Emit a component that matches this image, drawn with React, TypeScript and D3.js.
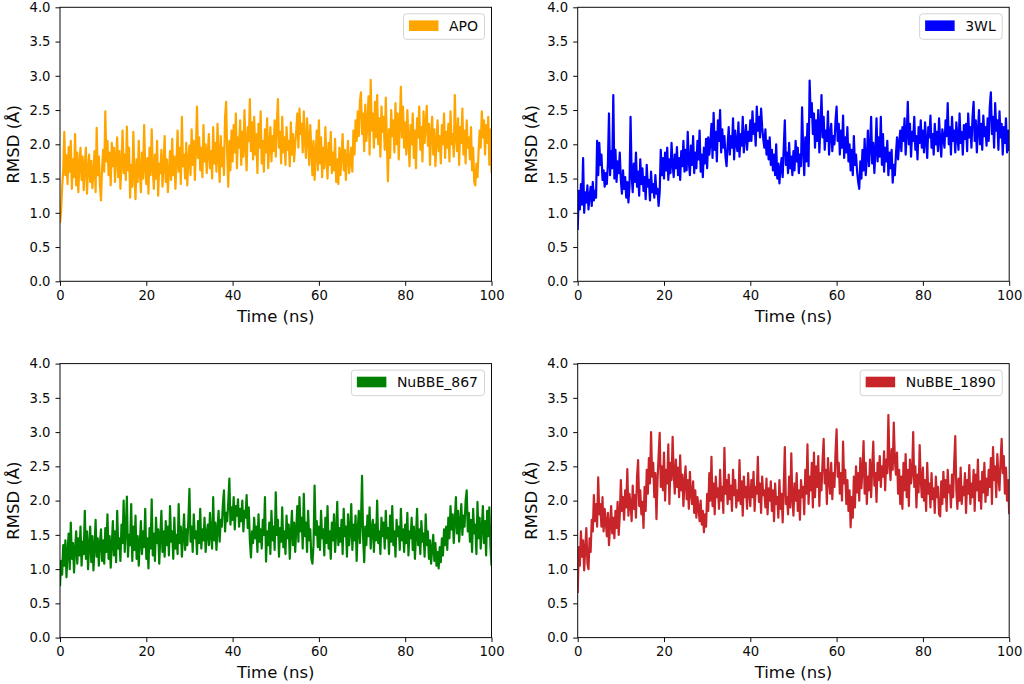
import React, { useRef, useEffect } from 'react';
import * as d3 from 'd3';

// one frame every 0.25 ns, 0 .. 100 ns
const STEP = 0.25;
const xTicks = [0, 20, 40, 60, 80, 100];
const yTicks = [0, 0.5, 1, 1.5, 2, 2.5, 3, 3.5, 4];

const apo = [
  0.85, 1.02, 1.38, 1.62, 2.18, 1.55, 1.84, 1.42, 1.96, 1.60, 2.05, 1.35, 1.78, 1.52, 2.15, 1.40, 1.88, 1.30, 1.72, 1.95,
  1.48, 1.82, 1.33, 1.70, 1.95, 1.28, 1.62, 1.85, 1.45, 1.76, 1.36, 1.58, 1.90, 1.30, 2.24, 1.55, 1.82, 1.40, 1.18, 1.65,
  1.92, 1.60, 2.48, 1.75, 2.05, 1.55, 1.88, 1.40, 2.02, 1.68, 1.95, 1.45, 1.80, 2.10, 1.52, 1.90, 1.35, 1.72, 2.20, 1.58,
  1.85, 1.48, 2.26, 1.62, 1.95, 1.22, 1.70, 1.38, 2.18, 1.55, 1.20, 1.78, 1.45, 2.05, 1.60, 1.30, 1.88, 1.50, 2.28, 1.65,
  1.42, 1.80, 1.28, 1.95, 1.55, 2.22, 1.65, 1.35, 1.85, 1.50, 2.05, 1.25, 1.72, 1.58, 1.92, 1.38, 1.68, 2.12, 1.45, 1.78,
  1.30, 1.62, 1.90, 1.48, 2.08, 1.55, 1.82, 1.35, 1.75, 2.20, 1.60, 1.95, 1.42, 2.40, 1.68, 1.85, 1.50, 2.02, 1.40, 1.78,
  1.98, 1.55, 2.22, 1.70, 2.05, 1.48, 1.92, 2.55, 1.80, 2.10, 1.62, 1.95, 1.52, 2.28, 1.75, 2.00, 1.58, 1.88, 2.15, 1.65,
  1.90, 1.50, 2.25, 1.72, 2.02, 1.60, 2.30, 1.82, 1.45, 2.12, 1.68, 1.95, 1.55, 2.40, 2.62, 1.85, 1.38, 2.05, 1.62, 2.20,
  1.75, 2.28, 1.88, 2.45, 1.65, 2.10, 1.95, 2.35, 1.70, 2.18, 1.82, 2.50, 1.98, 1.62, 2.25, 2.05, 2.66, 1.90, 2.32, 1.78,
  2.40, 1.85, 2.15, 1.58, 2.30, 1.95, 2.48, 1.72, 2.05, 1.60, 2.22, 1.88, 2.38, 1.65, 1.98, 2.25, 1.75, 2.12, 1.90, 2.35,
  1.82, 2.28, 2.66, 1.95, 2.18, 1.72, 2.40, 1.88, 2.10, 1.70, 2.25, 1.92, 2.05, 1.68, 2.32, 1.85, 2.15, 1.75, 2.00, 2.20,
  2.45, 1.95, 2.52, 2.15, 2.30, 1.88, 2.48, 2.05, 1.80, 2.38, 2.10, 1.70, 2.28, 1.92, 1.55, 2.05, 1.48, 1.85, 2.20, 1.62,
  2.35, 1.72, 2.10, 1.52, 1.95, 1.65, 2.25, 1.80, 1.50, 2.02, 1.70, 2.18, 1.58, 1.88, 1.62, 2.08, 1.45, 1.78, 1.42, 1.95,
  1.55, 1.85, 2.15, 1.62, 1.92, 1.48, 1.80, 2.05, 1.58, 1.75, 1.95, 1.60, 2.20, 1.85, 2.35, 2.05, 2.48, 2.12, 2.62, 2.76,
  2.15, 2.45, 1.90, 2.58, 2.05, 2.30, 2.70, 1.85, 2.94, 2.20, 2.45, 1.95, 2.62, 2.10, 2.72, 2.00, 2.38, 1.82, 2.55, 2.18,
  2.40, 1.92, 2.68, 2.05, 1.46, 2.22, 1.80, 2.50, 2.12, 2.35, 1.88, 2.60, 2.00, 2.45, 1.78, 2.30, 2.84, 2.10, 2.55, 1.95,
  2.32, 1.85, 2.50, 2.05, 1.68, 2.28, 2.00, 2.45, 1.80, 2.20, 1.65, 2.38, 2.10, 2.55, 1.92, 2.25, 1.75, 2.48, 2.02, 2.30,
  2.56, 1.98, 2.30, 1.70, 2.15, 2.40, 1.85, 2.22, 1.68, 2.05, 2.35, 1.90, 2.12, 1.72, 2.28, 2.00, 2.45, 1.80, 2.18, 1.95,
  2.30, 1.75, 2.48, 2.00, 2.15, 1.82, 2.72, 2.10, 1.90, 2.38, 1.70, 2.25, 2.02, 2.52, 1.85, 2.20, 1.72, 2.35, 1.95, 2.10,
  1.78, 2.25, 1.62, 1.95, 1.45, 1.40, 1.72, 1.52, 1.88, 2.20, 1.95, 2.48, 2.10, 2.35, 1.85, 2.28, 2.02, 2.40, 1.70, 2.22,
  1.58,
];

const wl3 = [
  0.75, 1.32, 1.05, 1.42, 1.12, 1.80, 1.00, 1.30, 1.15, 1.40, 1.05, 1.25, 1.38, 1.10, 1.45, 1.18, 1.32, 1.22, 2.05, 1.55,
  2.02, 1.70, 1.85, 1.48, 1.62, 1.38, 1.58, 1.42, 1.72, 2.45, 1.55, 1.90, 1.65, 2.72, 1.50, 1.92, 1.45, 1.75, 1.58, 1.88,
  1.48, 1.28, 1.62, 1.35, 1.52, 1.22, 1.45, 1.15, 1.38, 2.40, 1.55, 1.30, 1.72, 1.45, 1.88, 1.38, 1.60, 1.25, 1.78, 1.42,
  1.65, 1.32, 1.52, 1.20, 1.70, 1.38, 1.48, 1.18, 1.60, 1.30, 1.42, 1.22, 1.55, 1.28, 1.35, 1.10, 1.30, 1.92, 1.55, 1.80,
  1.50, 1.88, 1.62, 1.95, 1.48, 1.78, 1.58, 2.02, 1.70, 1.52, 1.85, 1.65, 1.96, 1.55, 1.80, 1.48, 1.90, 1.68, 2.05, 1.60,
  1.92, 1.62, 2.18, 1.75, 1.55, 1.98, 1.70, 2.12, 1.58, 1.88, 1.65, 2.05, 1.78, 2.20, 1.60, 1.85, 1.52, 1.95, 1.72, 2.08,
  1.65, 2.10, 1.85, 2.02, 2.30, 1.80, 2.46, 1.92, 2.18, 1.75, 2.35, 2.05, 2.50, 1.88, 2.22, 1.95, 2.12, 1.82, 1.68, 2.00,
  2.25, 1.85, 2.12, 1.95, 2.38, 1.78, 2.20, 2.02, 1.90, 2.32, 1.82, 2.15, 1.98, 2.40, 1.88, 2.10, 2.28, 1.92, 2.18, 2.05,
  2.35, 2.05, 2.48, 2.15, 2.30, 1.98, 2.55, 2.20, 2.40, 2.10, 2.52, 2.25, 2.08, 1.95, 2.22, 1.85, 2.05, 1.78, 2.10, 1.70,
  1.92, 1.62, 1.85, 1.55, 2.00, 1.50, 1.72, 1.43, 1.65, 1.80, 1.52, 1.95, 2.35, 1.70, 1.88, 1.58, 2.02, 1.65, 1.82, 1.55,
  1.90, 1.62, 2.05, 1.75, 1.95, 1.58, 1.85, 1.68, 2.54, 1.92, 1.55, 2.10, 1.75, 2.30, 1.68, 2.93, 2.40, 2.60, 2.15, 2.45,
  1.95, 2.35, 2.05, 2.50, 1.88, 2.25, 2.72, 2.10, 2.40, 1.92, 2.20, 2.05, 2.48, 1.85, 2.15, 2.30, 1.90, 2.12, 2.00, 2.35,
  2.55, 2.05, 2.30, 1.85, 2.20, 1.95, 2.42, 1.80, 2.10, 1.88, 2.25, 1.75, 2.00, 1.62, 1.92, 1.55, 2.12, 1.70, 1.85, 1.60,
  1.45, 1.35, 1.75, 1.50, 1.92, 1.62, 2.08, 1.55, 1.80, 2.20, 1.68, 1.95, 2.40, 1.72, 2.02, 1.58, 1.90, 2.38, 1.75, 2.10,
  1.82, 2.40, 1.70, 2.15, 1.60, 1.95, 1.75, 2.05, 1.55, 1.88, 1.65, 1.92, 1.44, 1.70, 1.55, 1.85, 2.10, 1.78, 2.02, 2.20,
  1.90, 2.25, 2.05, 2.38, 1.85, 2.15, 2.62, 2.00, 2.30, 1.82, 2.18, 2.05, 2.40, 1.92, 2.12, 1.78, 2.25, 2.02, 2.35, 1.95,
  2.20, 1.88, 2.32, 2.05, 1.80, 2.25, 2.10, 2.42, 1.95, 2.15, 1.85, 2.30, 2.00, 2.18, 1.90, 2.38, 2.05, 1.82, 2.22, 2.10,
  1.95, 2.35, 2.12, 2.60, 2.00, 2.25, 1.85, 2.40, 2.05, 2.20, 1.88, 2.32, 2.10, 1.92, 2.45, 2.02, 2.18, 1.85, 2.28, 2.08,
  2.30, 1.90, 2.45, 2.10, 2.25, 1.95, 2.40, 2.62, 2.05, 2.35, 1.88, 2.20, 2.50, 2.00, 2.30, 1.92, 2.42, 2.12, 2.25, 1.98,
  2.38, 2.05, 2.55, 2.76, 2.15, 2.40, 1.95, 2.60, 2.20, 2.35, 1.92, 2.48, 2.10, 2.30, 1.85, 2.25, 2.02, 2.38, 1.88, 2.20,
  1.90,
];

const nubbe867 = [
  0.75, 1.12, 0.92, 1.35, 1.05, 1.42, 0.88, 1.25, 1.52, 1.00, 1.68, 1.15, 1.38, 0.95, 1.30, 1.55, 1.08, 1.45, 1.20, 1.62,
  1.05, 1.40, 1.22, 1.85, 1.15, 1.55, 1.00, 1.35, 1.62, 1.10, 1.48, 0.98, 1.30, 1.72, 1.18, 1.45, 1.05, 1.38, 1.58, 1.12,
  1.42, 1.08, 1.60, 1.25, 1.80, 1.15, 1.48, 1.02, 1.35, 1.70, 1.20, 1.55, 1.10, 1.85, 1.30, 1.45, 1.12, 1.65, 1.38, 2.00,
  1.25, 1.58, 2.06, 1.18, 1.50, 1.35, 1.95, 1.12, 1.62, 1.28, 1.78, 1.15, 1.48, 1.05, 1.40, 1.70, 1.22, 1.55, 1.32, 1.88,
  1.15, 1.45, 1.01, 1.60, 1.30, 2.02, 1.20, 1.52, 1.12, 1.75, 1.38, 1.58, 1.08, 1.48, 1.85, 1.25, 1.55, 1.18, 1.70, 1.35,
  1.62, 1.20, 1.92, 1.40, 1.55, 1.15, 1.75, 1.30, 1.50, 1.22, 1.95, 1.38, 1.62, 1.18, 1.48, 1.80, 1.28, 1.58, 1.35, 1.72,
  2.17, 1.40, 1.62, 1.25, 1.80, 1.45, 1.55, 1.22, 1.70, 1.38, 1.88, 1.30, 1.58, 1.42, 1.75, 1.25, 1.52, 1.65, 1.35, 1.82,
  1.48, 1.30, 2.05, 1.42, 1.68, 1.28, 1.58, 1.85, 1.40, 1.72, 1.62, 1.95, 2.15, 1.55, 1.82, 1.70, 1.98, 2.32, 1.65, 1.90,
  1.72, 2.05, 1.58, 1.92, 1.78, 2.02, 1.62, 1.88, 1.70, 2.00, 1.55, 1.85, 1.75, 2.08, 1.60, 1.90, 1.42, 1.17, 1.55, 1.38,
  1.75, 1.45, 1.62, 1.25, 1.80, 1.40, 1.58, 1.30, 1.72, 1.50, 2.05, 1.11, 1.55, 1.35, 1.68, 1.22, 1.85, 1.42, 1.62, 1.28,
  2.12, 1.50, 1.72, 1.18, 1.60, 1.40, 1.90, 1.32, 1.55, 1.22, 1.78, 1.45, 1.65, 1.15, 1.52, 1.85, 1.35, 1.68, 1.25, 1.58,
  1.92, 1.40, 2.05, 1.55, 1.75, 1.30, 2.10, 1.48, 1.68, 1.25, 1.85, 1.42, 1.58, 1.15, 1.08, 1.35, 2.22, 1.50, 1.70, 1.32,
  1.62, 1.28, 1.85, 1.45, 1.58, 1.20, 1.75, 1.38, 1.92, 1.30, 1.55, 1.15, 1.68, 1.42, 1.80, 1.25, 1.52, 1.98, 1.35, 1.60,
  1.40, 1.72, 1.22, 1.88, 1.48, 1.62, 1.18, 1.80, 1.35, 1.55, 1.95, 1.28, 1.65, 1.42, 1.78, 1.12, 1.58, 1.85, 1.38, 1.70,
  2.36, 1.45, 1.10, 1.62, 1.35, 1.78, 1.48, 1.90, 1.30, 1.58, 1.72, 1.25, 1.65, 1.42, 2.00, 1.38, 1.55, 1.22, 1.75, 1.48,
  1.68, 1.30, 1.85, 1.45, 1.60, 1.22, 1.78, 1.40, 1.92, 1.35, 1.55, 1.18, 1.72, 1.48, 1.62, 1.28, 1.88, 1.42, 1.58, 1.25,
  1.65, 1.38, 1.82, 1.20, 1.55, 1.45, 1.75, 1.28, 1.62, 1.15, 1.48, 1.88, 1.35, 1.58, 1.22, 1.70, 1.40, 1.52, 1.18, 1.80,
  1.35, 1.55, 1.15, 1.42, 1.08, 1.30, 1.50, 1.12, 1.38, 1.05, 1.25, 1.01, 1.32, 1.10, 1.45, 1.20, 1.58, 1.35, 1.62, 1.28,
  1.75, 1.45, 1.92, 1.58, 1.80, 1.38, 1.70, 2.05, 1.52, 1.85, 1.40, 1.68, 1.95, 1.50, 1.78, 1.62, 2.00, 2.15, 1.55, 1.82,
  1.40, 1.72, 1.25, 1.88, 1.52, 1.65, 1.22, 1.98, 1.45, 1.75, 1.30, 1.60, 1.92, 1.38, 1.70, 1.20, 1.85, 1.48, 1.90, 1.35,
  1.05,
];

const nubbe1890 = [
  0.65, 1.32, 1.05, 1.55, 1.18, 1.42, 0.98, 1.30, 1.60, 1.08, 1.00, 1.45, 1.25, 1.72, 1.55, 2.08, 1.70, 1.95, 1.62, 2.34,
  1.80, 1.95, 1.62, 2.05, 1.55, 1.88, 1.70, 1.48, 1.82, 1.35, 1.65, 1.92, 1.52, 1.75, 1.45, 1.85, 1.60, 1.98, 1.50, 1.78,
  2.30, 1.85, 2.05, 1.72, 2.15, 1.90, 2.46, 1.78, 2.10, 1.95, 1.70, 2.22, 1.88, 2.08, 1.75, 2.35, 2.59, 1.92, 2.15, 1.80,
  1.98, 1.60, 2.20, 1.85, 2.45, 2.10, 2.62, 2.25, 3.00, 2.35, 2.55, 2.05, 2.40, 1.73, 2.30, 2.65, 2.99, 2.20, 2.50, 2.15,
  2.70, 2.00, 2.45, 2.25, 2.82, 1.95, 2.55, 2.30, 2.93, 2.40, 2.10, 2.60, 2.20, 2.48, 2.05, 2.66, 2.15, 2.38, 1.92, 2.28,
  2.50, 2.02, 2.30, 1.88, 2.42, 2.10, 1.95, 2.28, 1.82, 2.15, 1.75, 2.05, 1.90, 1.70, 2.00, 1.65, 1.85, 1.54, 1.80, 1.62,
  2.10, 1.85, 2.40, 2.00, 2.64, 1.92, 2.25, 1.80, 2.35, 2.05, 2.18, 1.88, 2.45, 2.00, 2.20, 1.82, 2.77, 2.10, 2.30, 1.95,
  2.38, 2.02, 2.22, 1.85, 2.45, 2.08, 2.30, 1.90, 2.15, 2.00, 2.59, 1.95, 2.28, 1.78, 2.35, 2.05, 2.20, 1.88, 2.40, 2.10,
  1.92, 2.30, 2.05, 2.42, 1.85, 2.20, 2.10, 2.64, 1.98, 2.25, 1.82, 2.35, 2.08, 2.15, 1.90, 2.32, 1.80, 2.18, 2.00, 2.28,
  1.85, 2.15, 1.70, 2.25, 1.95, 2.05, 1.75, 2.30, 1.88, 2.10, 1.68, 2.20, 2.78, 1.95, 2.05, 1.80, 2.35, 1.90, 2.69, 2.02,
  1.78, 2.25, 2.00, 2.40, 1.85, 2.15, 1.72, 2.30, 2.05, 2.20, 1.80, 2.45, 2.10, 2.82, 1.95, 2.35, 2.15, 2.55, 1.90, 2.70,
  2.05, 2.50, 2.20, 2.65, 1.92, 2.40, 2.15, 2.58, 2.90, 2.25, 2.45, 1.95, 2.62, 2.30, 2.10, 2.55, 2.02, 2.40, 2.20, 2.70,
  3.04, 2.35, 2.55, 2.10, 2.40, 2.00, 2.86, 2.25, 2.45, 1.95, 2.30, 1.85, 2.15, 1.61, 2.05, 1.75, 2.35, 1.90, 2.50, 2.12,
  2.40, 2.00, 2.62, 2.18, 2.45, 2.87, 2.10, 2.55, 1.95, 2.35, 2.15, 2.60, 2.05, 2.48, 2.86, 2.22, 2.40, 1.98, 2.55, 2.30,
  2.65, 2.20, 2.50, 2.35, 2.72, 2.15, 2.60, 2.40, 3.25, 2.55, 2.30, 2.75, 2.45, 3.14, 2.60, 2.38, 2.70, 2.10, 2.45, 1.95,
  2.35, 1.88, 2.55, 2.15, 2.68, 2.05, 2.45, 1.92, 2.60, 2.25, 2.40, 3.00, 2.20, 2.50, 1.90, 2.38, 2.12, 2.81, 2.30, 2.05,
  2.48, 2.00, 2.30, 1.85, 2.55, 2.10, 2.25, 1.90, 2.40, 2.02, 2.18, 1.82, 2.35, 2.05, 2.20, 1.80, 1.77, 2.28, 1.95, 2.42,
  2.05, 2.30, 1.85, 2.45, 2.12, 2.22, 1.90, 2.38, 2.05, 2.55, 2.94, 2.15, 1.88, 2.32, 2.00, 2.48, 1.95, 2.20, 2.08, 2.40,
  1.82, 2.30, 2.10, 2.52, 1.95, 2.25, 2.05, 2.45, 1.85, 2.38, 2.15, 2.60, 2.00, 2.28, 1.88, 2.42, 2.12, 2.55, 1.98, 2.32,
  2.08, 2.45, 2.20, 2.62, 1.95, 2.78, 2.30, 2.50, 2.05, 2.68, 2.35, 2.15, 2.58, 2.90, 2.40, 2.65, 2.10, 2.48, 2.00, 2.30,
  1.80,
];

const seriesNames = ['APO', '3WL', 'NuBBE_867', 'NuBBE_1890'];
const seriesValues = [apo, wl3, nubbe867, nubbe1890];
const seriesColors = ['#ffa500', '#0000ff', '#008000', '#c8252b'];

const W = 1024;
const H = 684;
const PLOT_W = 431.5;
const PLOT_H = 274;
const cells = [
  { left: 60, top: 7.3 },
  { left: 577.7, top: 7.3 },
  { left: 60, top: 363.6 },
  { left: 577.7, top: 363.6 },
];
const FONT = '"DejaVu Sans", sans-serif';
const INK = '#0a0a0a';

function App() {
  const ref = useRef<SVGSVGElement | null>(null);

  useEffect(() => {
    const svg = d3.select(ref.current);
    svg.selectAll('*').remove();

    seriesNames.forEach((name, i) => {
      const c = cells[i];
      const x = d3.scaleLinear().domain([0, 100]).range([c.left, c.left + PLOT_W]);
      const y = d3.scaleLinear().domain([0, 4]).range([c.top + PLOT_H, c.top]);
      const g = svg.append('g');

      const clipId = `clip-${i}`;
      g.append('clipPath').attr('id', clipId)
        .append('rect')
        .attr('x', c.left).attr('y', c.top)
        .attr('width', PLOT_W).attr('height', PLOT_H);

      const line = d3.line<number>()
        .x((_, j) => x(j * STEP))
        .y(d => y(d));

      g.append('path')
        .datum(seriesValues[i])
        .attr('d', line)
        .attr('fill', 'none')
        .attr('stroke', seriesColors[i])
        .attr('stroke-width', 2.2)
        .attr('stroke-linejoin', 'round')
        .attr('clip-path', `url(#${clipId})`);

      // x axis
      const xa = g.append('g')
        .attr('transform', `translate(0,${c.top + PLOT_H})`)
        .call(d3.axisBottom(x).tickValues(xTicks).tickFormat(d3.format('d')).tickSize(4.5).tickPadding(4.5));
      xa.select('.domain').remove();
      xa.attr('font-size', 13.2).attr('font-family', FONT).style('color', INK);

      // y axis
      const ya = g.append('g')
        .attr('transform', `translate(${c.left},0)`)
        .call(d3.axisLeft(y).tickValues(yTicks).tickFormat(d3.format('.1f')).tickSize(4.5).tickPadding(5));
      ya.select('.domain').remove();
      ya.attr('font-size', 13.2).attr('font-family', FONT).style('color', INK);

      // frame
      g.append('rect')
        .attr('x', c.left).attr('y', c.top)
        .attr('width', PLOT_W).attr('height', PLOT_H)
        .attr('fill', 'none')
        .attr('stroke', INK)
        .attr('stroke-width', 1);

      g.append('text')
        .attr('x', c.left + PLOT_W / 2)
        .attr('y', c.top + PLOT_H + 40.5)
        .attr('text-anchor', 'middle')
        .attr('font-family', FONT)
        .attr('font-size', 16.5)
        .attr('fill', INK)
        .text('Time (ns)');

      g.append('text')
        .attr('transform', `translate(${c.left - 41},${c.top + PLOT_H / 2}) rotate(-90)`)
        .attr('text-anchor', 'middle')
        .attr('font-family', FONT)
        .attr('font-size', 16.5)
        .attr('fill', INK)
        .text('RMSD (Å)');

      // legend, right aligned in the upper corner
      const boxRight = c.left + PLOT_W - 7;
      const boxTop = c.top + 6.5;
      const lg = g.append('g');
      const box = lg.append('rect');
      const label = lg.append('text')
        .attr('x', boxRight - 6.5)
        .attr('y', boxTop + 16.8)
        .attr('text-anchor', 'end')
        .attr('font-family', FONT)
        .attr('font-size', 14)
        .attr('fill', INK)
        .text(name);
      const tw = (label.node() as SVGTextElement).getComputedTextLength();
      const patchX = boxRight - 6.5 - tw - 10.5 - 29.5;
      lg.append('rect')
        .attr('x', patchX).attr('y', boxTop + 6.6)
        .attr('width', 29.5).attr('height', 10.6)
        .attr('fill', seriesColors[i]);
      box.attr('x', patchX - 5.5).attr('y', boxTop)
        .attr('width', boxRight - (patchX - 5.5)).attr('height', 25.5)
        .attr('rx', 3)
        .attr('fill', 'rgba(255,255,255,0.8)')
        .attr('stroke', '#d4d4d4')
        .attr('stroke-width', 1);
    });

    return () => {
      svg.selectAll('*').remove();
    };
  }, []);

  return (
    <svg
      ref={ref}
      width={W}
      height={H}
      style={{ position: 'absolute', left: 0, top: 0, display: 'block', background: '#fff' }}
    />
  );
}

export default App;
